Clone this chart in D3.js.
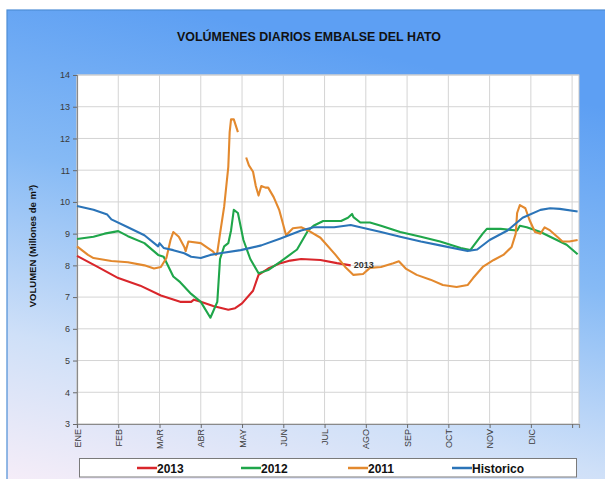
<!DOCTYPE html>
<html><head><meta charset="utf-8">
<script src="https://cdn.jsdelivr.net/npm/d3@7"></script>
<style>html,body{margin:0;padding:0;background:#fff;}svg{display:block;}</style>
</head><body>
<svg id="c" width="605" height="479"></svg>
<script>
const title = "VOLÚMENES DIARIOS EMBALSE DEL HATO";
const yLabel = "VOLUMEN (Millones de m³)";
const monthLabels = ["ENE","FEB","MAR","ABR","MAY","JUN","JUL","AGO","SEP","OCT","NOV","DIC",""];
const monthDays = [0,30,60,90,120,150,180,210,240,270,300,330,360];
const yTicks = [3,4,5,6,7,8,9,10,11,12,13,14];
const seriesNames = ["2013","2012","2011","Historico"];
const seriesColors = ["#d9262b","#1fa64a","#e3892e","#2b74b8"];

// [day of year, volume in millions m3]
const s2013 = [[0,8.3],[15,7.95],[30,7.6],[46,7.36],[61,7.05],[75,6.85],[83,6.85],[85,6.92],[90,6.85],[99,6.72],[110,6.6],[115,6.65],[120,6.8],[128,7.2],[132,7.7],[139,7.9],[148,8.07],[155,8.15],[163,8.2],[177,8.17],[189,8.07],[199,8.0]];
const s2012 = [[0,8.83],[12,8.9],[20,9.0],[30,9.08],[37,8.92],[49,8.7],[59,8.33],[63,8.27],[70,7.65],[75,7.47],[83,7.1],[90,6.85],[97,6.35],[102,6.85],[104,8.2],[107,8.6],[110,8.7],[112,9.1],[114,9.75],[117,9.65],[121,8.8],[126,8.2],[132,7.75],[139,7.85],[148,8.12],[160,8.5],[168,9.1],[172,9.25],[179,9.4],[192,9.4],[197,9.5],[200,9.62],[201,9.52],[206,9.35],[213,9.35],[221,9.25],[235,9.05],[250,8.9],[264,8.75],[279,8.55],[286,8.48],[288,8.6],[295,9.0],[298,9.15],[308,9.15],[320,9.1],[322,9.25],[327,9.2],[337,9.05],[344,8.9],[356,8.65],[364,8.35]];
const s2011 = [[0,8.6],[8,8.33],[12,8.23],[25,8.14],[37,8.1],[49,8.0],[56,7.9],[61,7.95],[65,8.23],[68,8.8],[70,9.05],[74,8.9],[78,8.58],[79,8.45],[81,8.75],[90,8.7],[95,8.55],[99,8.43],[101,8.33],[102,8.4],[104,9.0],[107,9.85],[110,11.1],[111,12.2],[112,12.6],[114,12.6],[117,12.2],[120,null],[123,11.4],[125,11.15],[128,10.95],[130,10.5],[132,10.2],[134,10.5],[137,10.45],[139,10.45],[143,10.15],[147,9.75],[150,9.27],[152,8.95],[157,9.17],[163,9.2],[168,9.1],[177,8.87],[188,8.33],[195,7.95],[201,7.7],[208,7.73],[213,7.92],[221,7.95],[230,8.07],[234,8.13],[239,7.9],[247,7.7],[257,7.55],[266,7.38],[276,7.32],[284,7.38],[288,7.6],[295,7.95],[303,8.17],[310,8.33],[316,8.58],[319,9.0],[320,9.65],[322,9.9],[326,9.8],[329,9.43],[333,9.05],[337,9.0],[340,9.2],[344,9.1],[350,8.87],[353,8.75],[358,8.75],[364,8.8]];
const sHist = [[0,9.87],[12,9.75],[22,9.6],[25,9.45],[37,9.2],[49,8.95],[59,8.6],[60,8.7],[63,8.55],[70,8.48],[78,8.38],[83,8.27],[90,8.23],[97,8.33],[104,8.38],[119,8.48],[134,8.63],[148,8.85],[163,9.1],[172,9.2],[187,9.2],[199,9.27],[206,9.2],[221,9.05],[235,8.9],[250,8.75],[264,8.63],[284,8.45],[291,8.5],[300,8.8],[313,9.1],[324,9.5],[337,9.75],[344,9.8],[351,9.78],[364,9.7]];
const seriesData = [s2013, s2012, s2011, sHist];

const svg = d3.select("#c");
const defs = svg.append("defs");
const g = defs.append("linearGradient").attr("id","bg").attr("x1","0.3").attr("y1","0").attr("x2","0").attr("y2","1");
g.append("stop").attr("offset","0").attr("stop-color","#5d9ff3");
g.append("stop").attr("offset","0.35").attr("stop-color","#86baf5");
g.append("stop").attr("offset","0.7").attr("stop-color","#cfe0f8");
g.append("stop").attr("offset","1").attr("stop-color","#f8eef8");
svg.append("rect").attr("x",7).attr("y",10).attr("width",610).attr("height",480)
  .attr("fill","url(#bg)").attr("stroke","#4d8ed6").attr("stroke-width",1.2);

const x = d3.scaleLinear().domain([0,365]).range([77,579]);
const y = d3.scaleLinear().domain([3,14]).range([424,75]);

svg.append("rect").attr("x",77).attr("y",75).attr("width",502).attr("height",349)
  .attr("fill","#fff").attr("stroke","#c8c8c8");

// grid
svg.append("g").selectAll("line").data(yTicks).join("line")
  .attr("x1",77).attr("x2",579).attr("y1",d=>y(d)).attr("y2",d=>y(d))
  .attr("stroke","#d4d4d4").attr("stroke-width",1);
svg.append("g").selectAll("line").data(monthDays).join("line")
  .attr("x1",d=>x(d)).attr("x2",d=>x(d)).attr("y1",75).attr("y2",424)
  .attr("stroke","#d4d4d4").attr("stroke-width",1);

// axes
const ya = svg.append("g").attr("transform","translate(77,0)")
  .call(d3.axisLeft(y).tickValues(yTicks).tickSize(4).tickPadding(3).tickFormat(d3.format("d")));
const xa = svg.append("g").attr("transform","translate(0,424)")
  .call(d3.axisBottom(x).tickValues(monthDays).tickSize(4).tickFormat((d,i)=>monthLabels[i]));
[ya,xa].forEach(a=>{
  a.select(".domain").attr("stroke","#8a8a8a").attr("stroke-width",1.2);
  a.selectAll(".tick line").attr("stroke","#6a6a6a");
  a.selectAll("text").attr("fill","#3a3a3a").style("font-family","Liberation Sans, Arial, sans-serif").style("font-size","9px");
});
xa.selectAll(".tick text").attr("transform","rotate(-90)").attr("text-anchor","end")
  .attr("x",-5).attr("y",0).attr("dy","0.35em");

// lines
const line = d3.line().defined(d=>d[1]!==null).x(d=>x(d[0])).y(d=>y(d[1]));
seriesData.forEach((s,i)=>{
  svg.append("path").datum(s).attr("d",line).attr("fill","none")
    .attr("stroke",seriesColors[i]).attr("stroke-width",2.1).attr("stroke-linejoin","round");
});

// 2013 label
const last = s2013[s2013.length-1];
svg.append("text").attr("x",x(last[0])+3).attr("y",y(last[1])+3)
  .text("2013").attr("fill","#333").style("font-family","Liberation Sans, Arial, sans-serif")
  .style("font-size","9px").style("font-weight","bold");

// title
svg.append("text").attr("x",309).attr("y",41).attr("text-anchor","middle")
  .attr("textLength",264).attr("lengthAdjust","spacingAndGlyphs")
  .text(title).attr("fill","#111").style("font-family","Liberation Sans, Arial, sans-serif")
  .style("font-size","13.5px").style("font-weight","bold");

// y label
svg.append("text").attr("transform","translate(36,246) rotate(-90)").attr("text-anchor","middle")
  .text(yLabel).attr("fill","#111").style("font-family","Liberation Sans, Arial, sans-serif")
  .style("font-size","9.5px").style("font-weight","bold");

// legend
svg.append("rect").attr("x",79.5).attr("y",458.5).attr("width",497).attr("height",18.5)
  .attr("fill","#fff").attr("stroke","#7a7a7a");
const legX = [137,241,348,452];
const lg = svg.append("g").selectAll("g").data(seriesNames).join("g")
  .attr("transform",(d,i)=>`translate(${legX[i]},468)`);
lg.append("line").attr("x1",0).attr("x2",20).attr("y1",0).attr("y2",0)
  .attr("stroke",(d,i)=>seriesColors[i]).attr("stroke-width",2.5);
lg.append("text").attr("x",20).attr("y",4.5).text(d=>d).attr("fill","#111")
  .style("font-family","Liberation Sans, Arial, sans-serif").style("font-size","12px").style("font-weight","bold");
</script>
</body></html>
